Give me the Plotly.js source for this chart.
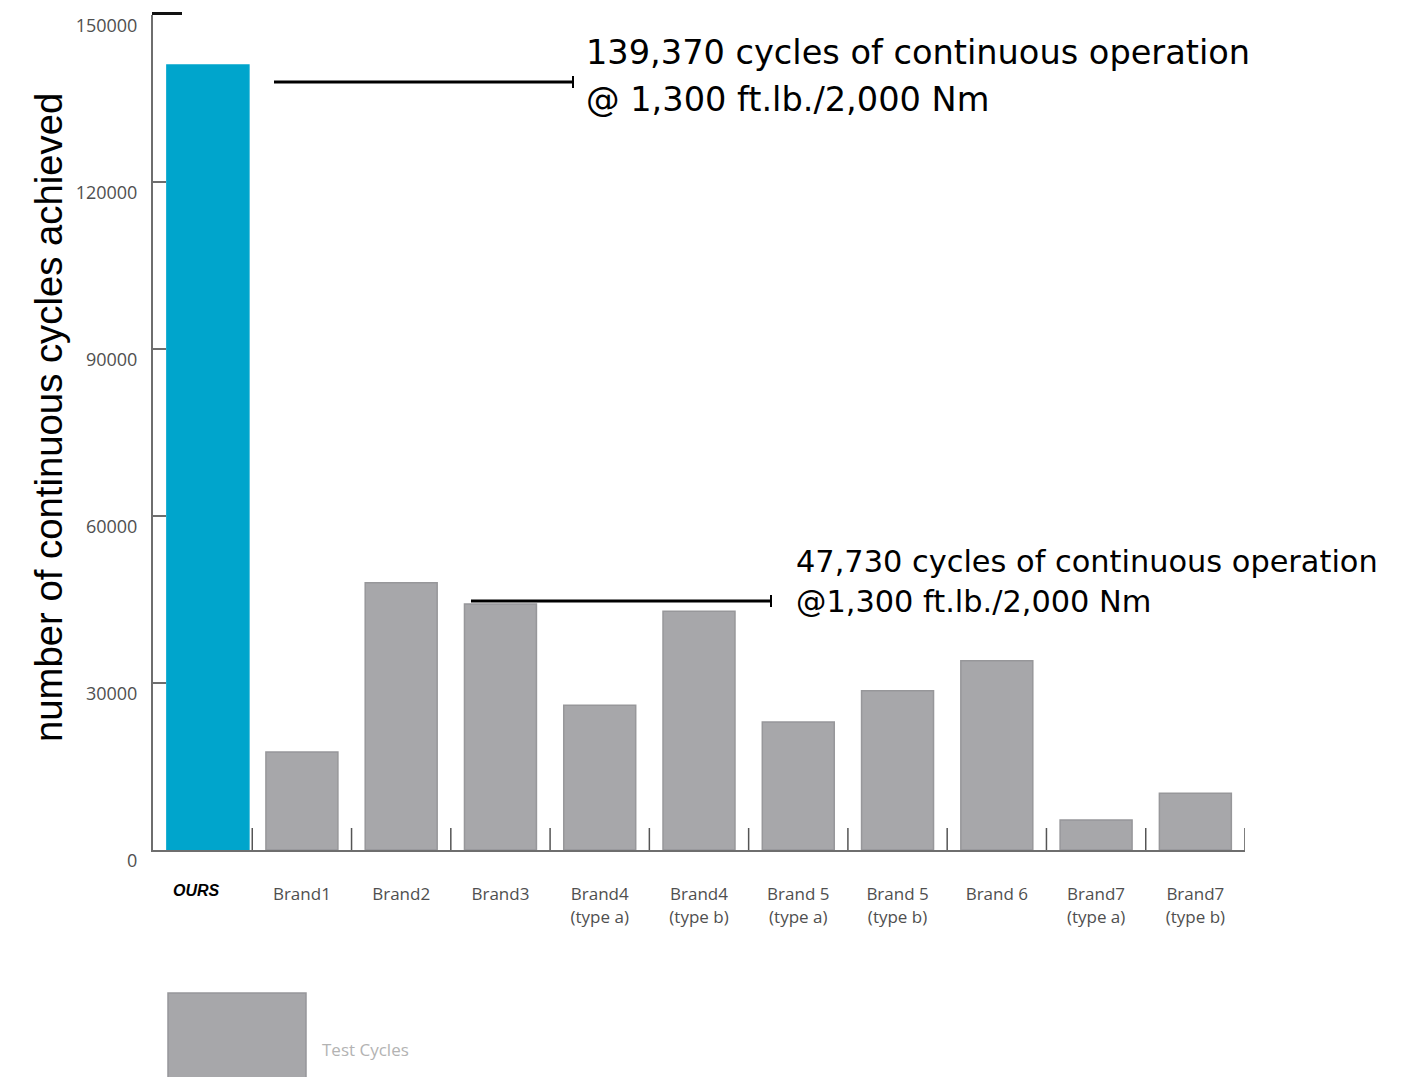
<!DOCTYPE html>
<html>
<head>
<meta charset="utf-8">
<script src="https://cdn.plot.ly/plotly-3.0.1.min.js"></script>
<style>html,body{margin:0;padding:0;background:#fff;}#chart{width:1416px;height:1077px;}</style>
</head>
<body>
<div id="chart"></div>
<script>
// ---- data ----
const categories = ["OURS","Brand1","Brand2","Brand3","Brand4 (type a)","Brand4 (type b)","Brand 5 (type a)","Brand 5 (type b)","Brand 6","Brand7 (type a)","Brand7 (type b)"];
const tickLabels = ["","Brand1","Brand2","Brand3","Brand4<br>(type a)","Brand4<br>(type b)","Brand 5<br>(type a)","Brand 5<br>(type b)","Brand 6","Brand7<br>(type a)","Brand7<br>(type b)"];
const highlightLabel = "OURS";
const cycles = [141000, 17600, 48000, 44200, 26000, 42900, 23000, 28600, 34000, 5400, 10200];
const yTicks = [0, 30000, 60000, 90000, 120000, 150000];
const note1 = ["139,370 cycles of continuous operation", "@ 1,300 ft.lb./2,000 Nm"];
const note2 = ["47,730 cycles of continuous operation", "@1,300 ft.lb./2,000 Nm"];
const legendLabel = "Test Cycles";
const yTitle = "number of continuous cycles achieved";

// ---- layout helpers ----
const W = 1416, H = 1077;
const M = {l:153, r:171, t:15, b:227};
const PW = W - M.l - M.r, PH = H - M.t - M.b;
const px = x => (x - M.l) / PW;
const py = y => (H - M.b - y) / PH;

const colors = categories.map((c,i) => i === 0 ? "#00a5cc" : "#a7a7aa");
const lineColors = categories.map((c,i) => i === 0 ? "#00a5cc" : "#97979a");
const widths = categories.map((c,i) => i === 0 ? 0.826 : 0.725);
const offsets = categories.map((c,i) => i === 0 ? -0.36 : -0.3625);

const trace = {
  type: "bar",
  x: categories.map((c,i)=>i),
  y: cycles,
  width: widths,
  offset: offsets,
  marker: {color: colors, line: {color: lineColors, width: 1.5}},
  hoverinfo: "skip",
  showlegend: false
};

const font = "'Open Sans', 'Noto Sans', sans-serif";
const annFont1 = {family: "'DejaVu Sans', sans-serif", size: 33.6, color: "#000"};
const annFont2 = {family: "'DejaVu Sans', sans-serif", size: 30.4, color: "#000"};

const annotations = [
  {text: yTitle, xref:"paper", yref:"paper", x: px(48), y: py(418), textangle: -90, showarrow:false,
   xanchor:"center", yanchor:"middle", font:{family:"'Liberation Sans', Arial, sans-serif", size:38.3, color:"#000"}},
  {text: note1[0], xref:"paper", yref:"paper", x: px(584), y: py(53), showarrow:false, xanchor:"left", yanchor:"middle", font: annFont1},
  {text: note1[1], xref:"paper", yref:"paper", x: px(584), y: py(99), showarrow:false, xanchor:"left", yanchor:"middle", font: annFont1},
  {text: note2[0], xref:"paper", yref:"paper", x: px(794), y: py(561), showarrow:false, xanchor:"left", yanchor:"middle", font: annFont2},
  {text: note2[1], xref:"paper", yref:"paper", x: px(794), y: py(602), showarrow:false, xanchor:"left", yanchor:"middle", font: annFont2},
  {text: "<b><i>" + highlightLabel + "</i></b>", xref:"x", yref:"paper", x: -0.06, y: py(890), showarrow:false,
   xanchor:"center", yanchor:"middle", font:{family:"'Liberation Sans', Arial, sans-serif", size:16, color:"#000"}},
  {text: legendLabel, xref:"paper", yref:"paper", x: px(320), y: py(1049), showarrow:false, xanchor:"left", yanchor:"middle",
   font:{family: font, size:17, color:"#b3b3b3"}}
];

const shapes = [
  // leader line 1
  {type:"line", xref:"paper", yref:"paper", x0:px(274), x1:px(573), y0:py(82), y1:py(82), line:{color:"#000", width:3}},
  {type:"line", xref:"paper", yref:"paper", x0:px(573), x1:px(573), y0:py(76), y1:py(88), line:{color:"#000", width:2}},
  // leader line 2
  {type:"line", xref:"paper", yref:"paper", x0:px(471), x1:px(771), y0:py(601), y1:py(601), line:{color:"#000", width:3}},
  {type:"line", xref:"paper", yref:"paper", x0:px(771), x1:px(771), y0:py(595), y1:py(607), line:{color:"#000", width:2}},
  // top cap of y axis
  {type:"line", xref:"paper", yref:"paper", x0:px(152), x1:px(182), y0:py(13.5), y1:py(13.5), line:{color:"#111", width:3}},
  // legend swatch
  {type:"rect", xref:"paper", yref:"paper", x0:px(168), x1:px(306), y0:py(993), y1:py(1085), fillcolor:"#a7a7aa", line:{color:"#97979a", width:1.5}}
];

const layout = {
  width: W, height: H,
  margin: M,
  paper_bgcolor: "#fff", plot_bgcolor: "#fff",
  xaxis: {
    type: "linear", range: [-0.5, 10.5], fixedrange: true,
    tickmode: "array", tickvals: categories.map((c,i)=>i), ticktext: tickLabels,
    showline: true, linecolor: "#6e6e6e", linewidth: 2,
    ticks: "", showgrid: false, zeroline: false,
    tickfont: {family: font, size: 17, color: "#4f4f4f"},
    ticklabelstandoff: 28
  },
  yaxis: {
    range: [0, 150000], fixedrange: true,
    tickmode: "array", tickvals: yTicks, ticktext: yTicks.map(v => String(v)),
    showline: true, linecolor: "#6e6e6e", linewidth: 2,
    ticks: "inside", ticklen: 13, tickwidth: 1.5, tickcolor: "#6e6e6e",
    showgrid: false, zeroline: false,
    tickfont: {family: font, size: 18, color: "#4f4f4f"},
    ticklabelshift: 11, ticklabelstandoff: 10
  },
  annotations: annotations,
  shapes: shapes
};

// category boundary ticks on the x axis (inside, pointing up)
for (let i = 1; i <= categories.length; i++) {
  layout.shapes.push({type:"line", xref:"x", yref:"paper", x0:i-0.5, x1:i-0.5, y0:0, y1:py(828), line:{color:"#555", width:1.5}});
}

Plotly.newPlot("chart", [trace], layout, {displayModeBar:false, staticPlot:true});
</script>
</body>
</html>
